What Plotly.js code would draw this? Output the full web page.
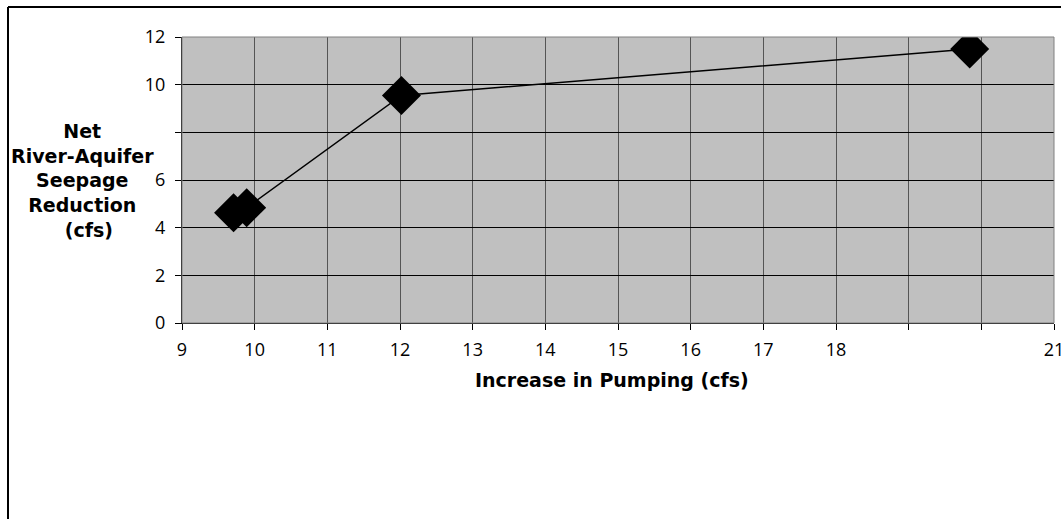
<!DOCTYPE html>
<html>
<head>
<meta charset="utf-8">
<script src="https://cdn.plot.ly/plotly-3.0.1.min.js"></script>
<style>
html,body{margin:0;padding:0;background:#fff;}
#chart{width:1061px;height:519px;}
</style>
</head>
<body>
<div id="chart"></div>
<script>
// Data
const pumpingIncrease = [9.71, 9.89, 12.02, 19.84];
const seepageReduction = [4.63, 4.84, 9.55, 11.5];

const xTickVals = [9, 10, 11, 12, 13, 14, 15, 16, 17, 18, 19, 20, 21];
const xTickText = ['9', '10', '11', '12', '13', '14', '15', '16', '17', '18', '', '', '21'];
const yTickVals = [0, 2, 4, 6, 8, 10, 12];
const yTickText = ['0', '2', '4', '6', '', '10', '12'];

const xTitle = 'Increase in Pumping (cfs)';
const yTitleLines = ['Net', 'River-Aquifer', 'Seepage', 'Reduction', '&nbsp;&nbsp;(cfs)'];

const W = 1061, H = 519;
const mL = 182, mR = 7, mT = 37, mB = 196;
const pw = W - mL - mR, ph = H - mT - mB;
const px = v => (v - mL) / pw;
const py = v => (H - mB - v) / ph;

const tickFam = '"Open Sans", "Noto Sans", sans-serif';
const titleFam = '"DejaVu Sans", Verdana, sans-serif';

const trace = {
  x: pumpingIncrease,
  y: seepageReduction,
  type: 'scatter',
  mode: 'lines+markers',
  line: {color: '#000000', width: 1.5},
  marker: {symbol: 'diamond', size: 30, color: '#000000'},
  hoverinfo: 'x+y'
};

const layout = {
  width: W, height: H,
  margin: {l: mL, r: mR, t: mT, b: mB, pad: 0},
  paper_bgcolor: '#ffffff',
  plot_bgcolor: '#c0c0c0',
  showlegend: false,
  font: {family: tickFam, color: '#000000', size: 18},
  xaxis: {
    range: [9, 21],
    tickmode: 'array', tickvals: xTickVals, ticktext: xTickText,
    showgrid: true, gridcolor: '#555555', gridwidth: 1,
    zeroline: false,
    showline: true, linecolor: '#000000', linewidth: 1,
    ticks: 'outside', ticklen: 6, tickcolor: '#000000', tickwidth: 1,
    tickfont: {family: tickFam, size: 18, color: '#000000'},
    ticklabelstandoff: 4,
    ticklabeloverflow: 'allow',
    fixedrange: true
  },
  yaxis: {
    range: [0, 12],
    tickmode: 'array', tickvals: yTickVals, ticktext: yTickText,
    showgrid: true, gridcolor: '#000000', gridwidth: 1,
    zeroline: false,
    showline: true, linecolor: '#000000', linewidth: 1,
    ticks: 'outside', ticklen: 6, tickcolor: '#000000', tickwidth: 1,
    tickfont: {family: tickFam, size: 18, color: '#000000'},
    ticklabelstandoff: 6,
    fixedrange: true
  },
  annotations: [{
    xref: 'paper', yref: 'paper',
    x: px(82), y: py(180),
    xanchor: 'center', yanchor: 'middle',
    align: 'center',
    showarrow: false,
    text: '<b>' + yTitleLines.join('<br>') + '</b>',
    font: {family: titleFam, size: 19, color: '#000000'}
  }, {
    xref: 'paper', yref: 'paper',
    x: px(612), y: py(380),
    xanchor: 'center', yanchor: 'middle',
    showarrow: false,
    text: '<b>' + xTitle + '</b>',
    font: {family: titleFam, size: 19, color: '#000000'}
  }],
  shapes: [
    {type: 'rect', xref: 'paper', yref: 'paper', x0: 0, x1: 1, y0: 0, y1: 1,
     line: {color: '#808080', width: 1}, layer: 'above'},
    {type: 'line', xref: 'paper', yref: 'paper', x0: px(8), x1: px(1070), y0: py(7), y1: py(7),
     line: {color: '#000000', width: 2}},
    {type: 'line', xref: 'paper', yref: 'paper', x0: px(8), x1: px(8), y0: py(7), y1: py(530),
     line: {color: '#000000', width: 2}}
  ]
};

Plotly.newPlot('chart', [trace], layout, {displayModeBar: false, staticPlot: true});
</script>
</body>
</html>
